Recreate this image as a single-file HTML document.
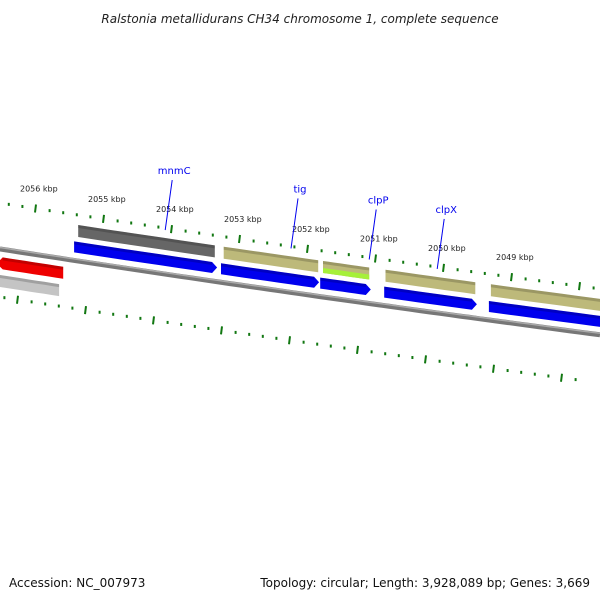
<!DOCTYPE html>
<html><head><meta charset="utf-8"><style>
body{margin:0;background:#fff;width:600px;height:600px;overflow:hidden;font-family:"DejaVu Sans","Liberation Sans",sans-serif}
svg{display:block}
</style></head><body>
<svg id="c" width="600" height="600" xmlns="http://www.w3.org/2000/svg">
<text x="300" y="23" text-anchor="middle" font-size="12" font-style="italic" fill="#222">Ralstonia metallidurans CH34 chromosome 1, complete sequence</text>
<text x="9" y="587" font-size="12" fill="#111">Accession: NC_007973</text>
<text x="590" y="587" text-anchor="end" font-size="12" fill="#111">Topology: circular; Length: 3,928,089 bp; Genes: 3,669</text>
<g id="g"></g>
</svg>
<script>
// data (kbp)
const tickKbp=[2056,2055,2054,2053,2052,2051,2050,2049,2048];
const featStart=[2055.38,2055.44,2053.24,2053.28,2051.78,2051.78,2051.82,2050.86,2050.88,2049.31,2049.34,2056.49,2056.53];
const featEnd=  [2053.37,2053.41,2051.85,2051.91,2051.10,2051.10,2051.15,2049.54,2049.59,2047.5,2047.5,2055.60,2055.66];
const featTrack=["outer","fwd","outer","fwd","outer","lime","fwd","outer","fwd","outer","fwd","rev","revgray"];
const featColor=["#666","#0000ee","#bdb97a","#0000ee","#bdb97a","#a6f03a","#0000ee","#bdb97a","#0000ee","#bdb97a","#0000ee","#ee0000","#c4c4c4"];
const featArrow=["none","right","none","right","none","none","right","none","right","none","none","left","none"];
const geneNames=["mnmC","tig","clpP","clpX"];
const geneKbp=[2054.1,2052.25,2051.1,2050.1];

const g=document.getElementById('g');
const NS='http://www.w3.org/2000/svg';
const X=k=>36+(2056-k)*68;
const F=x=>249+0.155*x-0.00002*x*x;
const tracks={outer:[-36,-24],lime:[-29,-24],fwd:[-19,-8],rev:[8,20],revgray:[26,38]};
function mk(t,a,name){const e=document.createElementNS(NS,t);for(const k in a)e.setAttribute(k,a[k]);


g.appendChild(e);return e;}
// backbone
let d='';for(let x=0;x<=600;x+=10)d+=(x?'L':'M')+x+','+F(x).toFixed(1);
mk('path',{d:d,stroke:'#777',fill:'none','stroke-width':5},'backbone');
mk('path',{d:d,stroke:'#aaa',fill:'none','stroke-width':1.5,transform:'translate(0,-1.5)'},'backbone-highlight');
// rulers
for(let i=0;i<=50;i++){
 const k=+(2057-i*0.2).toFixed(1);
 const major=Math.abs(k-Math.round(k))<0.01;
 const x=X(k);
 if(x<-5||x>605)continue;
 const y=F(x)-46, L=major?8:3;
 mk('line',{x1:x,y1:y-L/2,x2:x+(major?-1:0),y2:y+L/2,stroke:'#117711','stroke-width':2},'outer-tick');
 const xb=x-18,yb=F(xb)+48;
 mk('line',{x1:xb,y1:yb-L/2,x2:xb+(major?-1:0),y2:yb+L/2,stroke:'#117711','stroke-width':2},'inner-tick');
}
tickKbp.forEach(k=>{const x=X(k);if(x>570)return;
 const t=mk('text',{x:x-16,y:F(x)-63,'font-size':8,fill:'#222'},'tick-label');t.textContent=k+' kbp';});
// features
featStart.forEach((s,i)=>{
 let x1=Math.max(-5,X(s)),x2=Math.min(605,X(featEnd[i]));
 const [a,b]=tracks[featTrack[i]];
 const pts=[];const n=8;
 for(let j=0;j<=n;j++){const x=x1+(x2-x1)*j/n;pts.push([x,F(x)+a]);}
 if(featArrow[i]==='right'){pts.push([x2+5,F(x2)+(a+b)/2]);}
 for(let j=n;j>=0;j--){const x=x1+(x2-x1)*j/n;pts.push([x,F(x)+b]);}
 if(featArrow[i]==='left'){pts.push([x1-6,F(x1)+(a+b)/2]);}
 mk('polygon',{points:pts.map(p=>p[0].toFixed(1)+','+p[1].toFixed(1)).join(' '),fill:featColor[i]},'feature-'+featTrack[i]);
 const sp=[];for(let j=0;j<=n;j++){const x=x1+(x2-x1)*j/n;sp.push([x,F(x)+a]);}
 for(let j=n;j>=0;j--){const x=x1+(x2-x1)*j/n;sp.push([x,F(x)+a+3]);}
 if(featTrack[i]!=='lime')mk('polygon',{points:sp.map(p=>p[0].toFixed(1)+','+p[1].toFixed(1)).join(' '),fill:'#000','fill-opacity':0.18},'feature-shade');
});
// gene labels
geneNames.forEach((nm,i)=>{const x=X(geneKbp[i]);const y0=F(x)-44;
 mk('line',{x1:x,y1:y0,x2:x+7,y2:y0-50,stroke:'#0000ee','stroke-width':1},'gene-label-line');
 const t=mk('text',{x:x+9,y:y0-56,'font-size':10,fill:'#0000ee','text-anchor':'middle'},'gene-label');t.textContent=nm;});
</script>
</body></html>
